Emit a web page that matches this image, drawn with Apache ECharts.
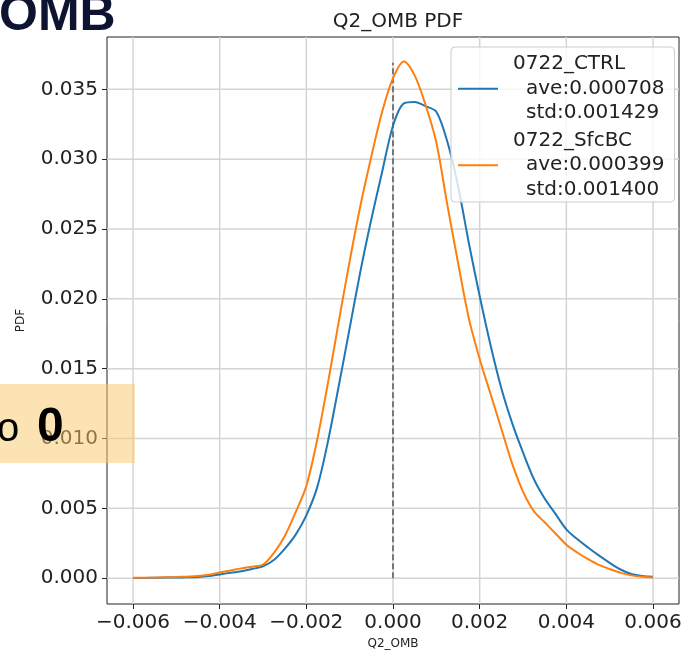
<!DOCTYPE html>
<html>
<head>
<meta charset="utf-8">
<title>Q2_OMB PDF</title>
<script src="https://cdn.jsdelivr.net/npm/echarts@6/dist/echarts.min.js"></script>
<style>
  html, body { margin: 0; padding: 0; background: #fff; }
  #chart { width: 683px; height: 653px; }
</style>
</head>
<body>
<div id="chart"></div>
<script>
// Q2 OMB values (x) and estimated PDF for each experiment
const omb = [
  -0.006, -0.00575, -0.0055, -0.00525, -0.005, -0.00475, -0.0045, -0.00425,
  -0.004, -0.00375, -0.0035, -0.00325, -0.003, -0.00275, -0.0025, -0.00225,
  -0.002, -0.00175, -0.0015, -0.00125, -0.001, -0.00075, -0.0005, -0.00025,
  0, 0.00025, 0.0005, 0.00075, 0.001, 0.00125, 0.0015, 0.00175,
  0.002, 0.00225, 0.0025, 0.00275, 0.003, 0.00325, 0.0035, 0.00375,
  0.004, 0.00425, 0.0045, 0.00475, 0.005, 0.00525, 0.0055, 0.00575, 0.006
]
const ctrlPdf = [
  0.00002, 0.00002, 0.00003, 0.00004, 0.00005, 0.00006, 0.00008, 0.00015,
  0.00027, 0.00038, 0.0005, 0.00066, 0.00085, 0.0013, 0.0021, 0.0031,
  0.0045, 0.0065, 0.0098, 0.0138, 0.0179, 0.0220, 0.0257, 0.0291,
  0.0324, 0.0340, 0.0341, 0.0338, 0.0334, 0.0313, 0.0281, 0.0240,
  0.0202, 0.0167, 0.0136, 0.0111, 0.0090, 0.0071, 0.0057, 0.0046,
  0.0035, 0.0028, 0.0022, 0.00163, 0.0011, 0.00062, 0.0003, 0.00015, 0.0001
]
const sfcbcPdf = [
  0.00003, 0.00003, 0.00004, 0.00006, 0.00008, 0.00011, 0.00015, 0.00025,
  0.0004, 0.00055, 0.0007, 0.00082, 0.00097, 0.0018, 0.0030, 0.0047,
  0.0066, 0.0099, 0.0140, 0.0184, 0.0227, 0.0267, 0.0302, 0.0334,
  0.0358, 0.0370, 0.0360, 0.0339, 0.0312, 0.0268, 0.0226, 0.0186,
  0.0157, 0.0132, 0.0107, 0.0082, 0.0062, 0.0048, 0.0040, 0.0032,
  0.0024, 0.00184, 0.00136, 0.00095, 0.00066, 0.00038, 0.0002, 0.0001, 0.00005
]

const seriesNames = ['0722_CTRL', '0722_SfcBC']
const aveLabels = ['0.000708', '0.000399']
const stdLabels = ['0.001429', '0.001400']

const xTicks = [-0.006, -0.004, -0.002, 0, 0.002, 0.004, 0.006]
const yTicks = [0, 0.005, 0.01, 0.015, 0.02, 0.025, 0.03, 0.035]
const zeroLineTop = 0.0369

const xMin = -0.0066, xMax = 0.0066
const yMin = -0.00185, yMax = 0.03875

const pairs = (xs, ys) => xs.map((x, i) => [x, ys[i]])
const fmt = v => (v < 0 ? '\u2212' : '') + Math.abs(v).toFixed(3)

const chart = echarts.init(document.getElementById('chart'))

const legendText = {}
seriesNames.forEach((n, i) => {
  legendText[n] = '{n|' + n + '}\n{s|ave:' + aveLabels[i] + '}\n{s|std:' + stdLabels[i] + '}'
})

// grid lines as plain line series, so they sit under the curves
const gridStyle = { color: '#d4d4d4', width: 1.5 }
const gridSeries = []
xTicks.forEach(v => {
  gridSeries.push({
    type: 'line', data: [[v, yMin], [v, yMax]], symbol: 'none', silent: true, z: 1,
    lineStyle: gridStyle
  })
})
yTicks.forEach(v => {
  gridSeries.push({
    type: 'line', data: [[xMin, v], [xMax, v]], symbol: 'none', silent: true, z: 1,
    lineStyle: gridStyle
  })
})

const option = {
  backgroundColor: '#ffffff',
  animation: false,
  textStyle: { fontFamily: 'DejaVu Sans' },
  title: {
    text: 'Q2_OMB PDF',
    left: 393,
    textAlign: 'center',
    top: 7,
    textStyle: { fontSize: 20, fontWeight: 'normal', color: '#222', fontFamily: 'DejaVu Sans' }
  },
  grid: {
    left: 107,
    right: 4,
    top: 37,
    bottom: 49,
    outerBoundsMode: 'none',
    containLabel: false,
    show: true,
    borderColor: '#222',
    borderWidth: 1,
    backgroundColor: 'transparent'
  },
  legend: {
    data: seriesNames,
    orient: 'vertical',
    left: 451,
    top: 47,
    padding: [5, 10, 0, 7],
    itemGap: 3,
    itemWidth: 40,
    itemHeight: 2,
    icon: 'rect',
    z: 10,
    backgroundColor: 'rgba(255,255,255,0.8)',
    borderColor: '#cccccc',
    borderWidth: 1,
    borderRadius: 4,
    formatter: name => legendText[name],
    textStyle: {
      color: '#222',
      fontSize: 20,
      lineHeight: 24.5,
      fontFamily: 'DejaVu Sans',
      rich: {
        n: { fontSize: 20, lineHeight: 24.5, padding: [0, 0, 0, 10], color: '#222' },
        s: { fontSize: 20, lineHeight: 24.5, padding: [0, 0, 0, 23], color: '#222' }
      }
    }
  },
  xAxis: {
    type: 'value',
    min: xMin,
    max: xMax,
    name: 'Q2_OMB',
    nameLocation: 'middle',
    nameGap: 34,
    nameTextStyle: { fontSize: 12, color: '#222' },
    axisLine: { show: false, onZero: false },
    axisTick: { show: true, length: 5, customValues: xTicks, lineStyle: { color: '#222' } },
    axisLabel: { customValues: xTicks, formatter: fmt, fontSize: 20, color: '#222', margin: 9 },
    splitLine: { show: false }
  },
  yAxis: {
    type: 'value',
    min: yMin,
    max: yMax,
    name: 'PDF',
    nameLocation: 'middle',
    nameGap: 80,
    nameRotate: 90,
    nameTextStyle: { fontSize: 12, color: '#222' },
    axisLine: { show: false, onZero: false },
    axisTick: { show: true, length: 5, customValues: yTicks, lineStyle: { color: '#222' } },
    axisLabel: { customValues: yTicks, formatter: v => v.toFixed(3), fontSize: 20, color: '#222', margin: 9 },
    splitLine: { show: false }
  },
  series: gridSeries.concat([
    {
      name: 'zero',
      type: 'line',
      data: [[0, 0], [0, zeroLineTop]],
      symbol: 'none',
      silent: true,
      z: 2,
      lineStyle: { color: '#555', width: 1.5, type: [6, 3] }
    },
    {
      name: seriesNames[0],
      type: 'line',
      data: pairs(omb, ctrlPdf),
      smooth: 0.3,
      symbol: 'none',
      z: 3,
      color: '#1f77b4',
      lineStyle: { color: '#1f77b4', width: 2 }
    },
    {
      name: seriesNames[1],
      type: 'line',
      data: pairs(omb, sfcbcPdf),
      smooth: 0.3,
      symbol: 'none',
      z: 4,
      color: '#ff7f0e',
      lineStyle: { color: '#ff7f0e', width: 2 }
    }
  ]),
  graphic: [
    {
      type: 'text',
      left: -1,
      top: -9,
      z: 100,
      style: { text: 'OMB', fill: '#0d1330', font: 'bold 50px "Liberation Sans"' }
    },
    {
      type: 'rect',
      z: 100,
      shape: { x: 0, y: 384, width: 135, height: 79 },
      style: { fill: 'rgba(250,200,105,0.5)' }
    },
    {
      type: 'text',
      z: 101,
      x: -3,
      y: 410,
      style: { text: 'o', fill: '#000', font: '40px "Liberation Sans"' }
    },
    {
      type: 'text',
      z: 101,
      x: 37,
      y: 404,
      style: { text: '0', fill: '#000', font: 'bold 48px "Liberation Sans"' }
    }
  ]
}

chart.setOption(option)
</script>
</body>
</html>
